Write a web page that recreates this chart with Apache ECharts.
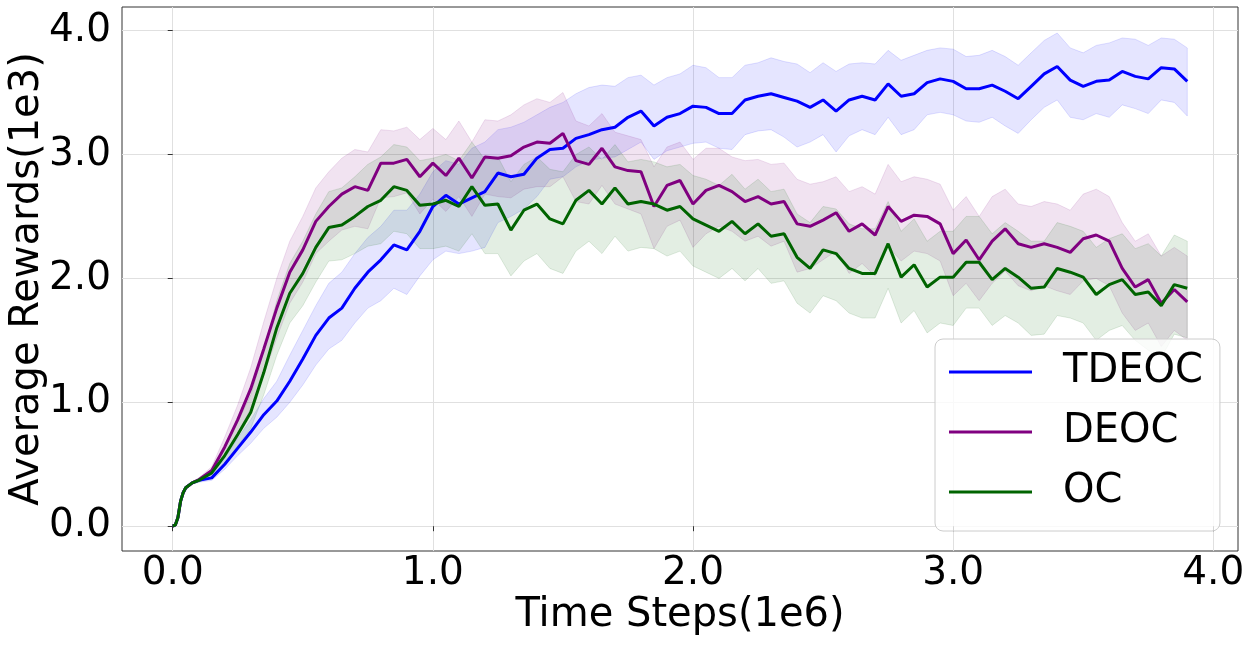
<!DOCTYPE html>
<html>
<head>
<meta charset="utf-8">
<script src="https://cdn.jsdelivr.net/npm/echarts@6/dist/echarts.min.js"></script>
<style>
  html, body { margin: 0; padding: 0; background: #fff; }
  #rewardChart { width: 1250px; height: 649px; }
</style>
</head>
<body>
<div id="rewardChart"></div>
<script>
  // time steps (1e6)
  const steps = [0, 0.01, 0.02, 0.03, 0.04, 0.05, 0.075, 0.1,
    0.15, 0.2, 0.25, 0.3, 0.35, 0.4, 0.45, 0.5, 0.55, 0.6,
    0.65, 0.7, 0.75, 0.8, 0.85, 0.9, 0.95, 1.0, 1.05, 1.1,
    1.15, 1.2, 1.25, 1.3, 1.35, 1.4, 1.45, 1.5, 1.55, 1.6,
    1.65, 1.7, 1.75, 1.8, 1.85, 1.9, 1.95, 2.0, 2.05, 2.1,
    2.15, 2.2, 2.25, 2.3, 2.35, 2.4, 2.45, 2.5, 2.55, 2.6,
    2.65, 2.7, 2.75, 2.8, 2.85, 2.9, 2.95, 3.0, 3.05, 3.1,
    3.15, 3.2, 3.25, 3.3, 3.35, 3.4, 3.45, 3.5, 3.55, 3.6,
    3.65, 3.7, 3.75, 3.8, 3.85, 3.9];

  // TDEOC
  const tdeocMean = [0, 0.01, 0.07, 0.20, 0.27, 0.31, 0.35, 0.37,
    0.39, 0.50, 0.63, 0.76, 0.90, 1.01, 1.17, 1.35, 1.54, 1.68,
    1.76, 1.92, 2.05, 2.15, 2.27, 2.23, 2.38, 2.58, 2.67, 2.60,
    2.65, 2.70, 2.85, 2.82, 2.84, 2.97, 3.04, 3.05, 3.13, 3.16,
    3.20, 3.22, 3.30, 3.35, 3.23, 3.30, 3.33, 3.39, 3.38, 3.33,
    3.33, 3.44, 3.47, 3.49, 3.46, 3.43, 3.38, 3.44, 3.35, 3.44,
    3.47, 3.44, 3.57, 3.47, 3.49, 3.58, 3.61, 3.59, 3.53, 3.53,
    3.56, 3.51, 3.45, 3.55, 3.65, 3.71, 3.60, 3.55, 3.59, 3.60,
    3.67, 3.63, 3.61, 3.70, 3.69, 3.59];
  const tdeocHigh = [0, 0.01, 0.08, 0.21, 0.28, 0.32, 0.36, 0.385,
    0.42, 0.55, 0.71, 0.86, 1.03, 1.17, 1.38, 1.58, 1.78, 1.96,
    2.05, 2.20, 2.33, 2.42, 2.55, 2.55, 2.68, 2.86, 2.95, 2.92,
    3.05, 3.10, 3.20, 3.22, 3.26, 3.32, 3.38, 3.42, 3.49, 3.54,
    3.56, 3.55, 3.62, 3.64, 3.56, 3.62, 3.65, 3.72, 3.70, 3.62,
    3.62, 3.72, 3.74, 3.78, 3.75, 3.73, 3.66, 3.74, 3.67, 3.73,
    3.74, 3.73, 3.84, 3.76, 3.80, 3.84, 3.86, 3.85, 3.79, 3.80,
    3.84, 3.79, 3.72, 3.82, 3.92, 3.98, 3.86, 3.82, 3.88, 3.90,
    3.94, 3.93, 3.88, 3.94, 3.93, 3.86];
  const tdeocLow = [0, 0.01, 0.06, 0.19, 0.26, 0.30, 0.34, 0.355,
    0.37, 0.46, 0.57, 0.67, 0.79, 0.88, 1.00, 1.14, 1.30, 1.43,
    1.50, 1.64, 1.76, 1.82, 1.92, 1.87, 2.02, 2.15, 2.22, 2.20,
    2.22, 2.25, 2.45, 2.50, 2.56, 2.66, 2.80, 2.82, 2.90, 2.95,
    2.97, 2.98, 3.04, 3.10, 2.96, 3.03, 3.06, 3.09, 3.10, 3.05,
    3.04, 3.16, 3.19, 3.20, 3.14, 3.06, 3.10, 3.16, 3.02, 3.15,
    3.20, 3.16, 3.30, 3.16, 3.20, 3.32, 3.34, 3.32, 3.27, 3.26,
    3.30, 3.23, 3.17, 3.28, 3.38, 3.44, 3.30, 3.28, 3.33, 3.30,
    3.40, 3.37, 3.33, 3.44, 3.42, 3.31];

  // DEOC
  const deocMean = [0, 0.01, 0.07, 0.20, 0.27, 0.31, 0.35, 0.375,
    0.45, 0.64, 0.86, 1.11, 1.43, 1.76, 2.05, 2.23, 2.46, 2.58,
    2.68, 2.74, 2.71, 2.93, 2.93, 2.96, 2.82, 2.93, 2.83, 2.97,
    2.81, 2.98, 2.97, 2.99, 3.06, 3.10, 3.09, 3.17, 2.95, 2.92,
    3.05, 2.90, 2.87, 2.86, 2.58, 2.75, 2.79, 2.60, 2.71, 2.75,
    2.70, 2.62, 2.66, 2.60, 2.62, 2.44, 2.42, 2.47, 2.53, 2.38,
    2.44, 2.35, 2.58, 2.46, 2.51, 2.50, 2.44, 2.20, 2.31, 2.15,
    2.30, 2.40, 2.28, 2.25, 2.28, 2.25, 2.21, 2.32, 2.35, 2.30,
    2.08, 1.93, 1.99, 1.80, 1.91, 1.81];
  const deocHigh = [0, 0.01, 0.08, 0.21, 0.28, 0.32, 0.36, 0.39,
    0.48, 0.72, 0.98, 1.28, 1.65, 2.00, 2.30, 2.50, 2.73, 2.86,
    2.97, 3.04, 3.02, 3.20, 3.19, 3.22, 3.12, 3.21, 3.12, 3.27,
    3.10, 3.28, 3.27, 3.32, 3.40, 3.45, 3.42, 3.50, 3.27, 3.23,
    3.33, 3.18, 3.15, 3.12, 2.90, 3.06, 3.10, 2.96, 3.05, 3.05,
    2.98, 2.95, 2.96, 2.92, 2.93, 2.80, 2.76, 2.78, 2.82, 2.70,
    2.74, 2.68, 2.92, 2.78, 2.82, 2.80, 2.76, 2.55, 2.66, 2.50,
    2.66, 2.72, 2.60, 2.58, 2.62, 2.60, 2.55, 2.68, 2.72, 2.66,
    2.45, 2.30, 2.36, 2.18, 2.25, 2.18];
  const deocLow = [0, 0.01, 0.06, 0.19, 0.26, 0.30, 0.34, 0.36,
    0.42, 0.57, 0.75, 0.95, 1.22, 1.52, 1.80, 1.97, 2.20, 2.30,
    2.39, 2.42, 2.40, 2.65, 2.66, 2.69, 2.52, 2.64, 2.54, 2.66,
    2.50, 2.68, 2.66, 2.65, 2.72, 2.74, 2.74, 2.82, 2.62, 2.60,
    2.75, 2.60, 2.56, 2.52, 2.24, 2.42, 2.47, 2.25, 2.36, 2.42,
    2.38, 2.30, 2.34, 2.26, 2.30, 2.05, 2.08, 2.15, 2.22, 2.04,
    2.12, 2.02, 2.26, 2.14, 2.22, 2.20, 2.14, 1.86, 1.96, 1.82,
    1.96, 2.06, 1.94, 1.90, 1.94, 1.90, 1.87, 1.98, 2.00, 1.94,
    1.72, 1.58, 1.64, 1.45, 1.58, 1.50];

  // OC
  const ocMean = [0, 0.01, 0.07, 0.20, 0.27, 0.31, 0.35, 0.37,
    0.43, 0.57, 0.74, 0.92, 1.24, 1.60, 1.88, 2.04, 2.25, 2.41,
    2.43, 2.50, 2.58, 2.63, 2.74, 2.71, 2.59, 2.60, 2.63, 2.58,
    2.74, 2.59, 2.60, 2.39, 2.55, 2.60, 2.48, 2.44, 2.63, 2.71,
    2.60, 2.73, 2.60, 2.62, 2.60, 2.55, 2.58, 2.48, 2.43, 2.38,
    2.46, 2.36, 2.44, 2.34, 2.36, 2.17, 2.08, 2.23, 2.20, 2.08,
    2.04, 2.04, 2.28, 2.01, 2.11, 1.93, 2.01, 2.01, 2.13, 2.13,
    1.99, 2.08, 2.01, 1.92, 1.93, 2.08, 2.05, 2.01, 1.87, 1.95,
    1.99, 1.87, 1.89, 1.78, 1.95, 1.92];
  const ocHigh = [0, 0.01, 0.08, 0.21, 0.28, 0.32, 0.36, 0.385,
    0.46, 0.63, 0.84, 1.06, 1.42, 1.82, 2.12, 2.30, 2.52, 2.70,
    2.73, 2.82, 2.92, 2.98, 3.08, 3.06, 2.95, 2.97, 3.00, 2.95,
    3.10, 2.96, 2.98, 2.78, 2.92, 2.98, 2.88, 2.86, 3.00, 3.06,
    2.96, 3.08, 2.94, 2.96, 2.94, 2.90, 2.92, 2.83, 2.80, 2.75,
    2.84, 2.72, 2.80, 2.70, 2.72, 2.52, 2.45, 2.58, 2.56, 2.44,
    2.40, 2.40, 2.62, 2.38, 2.48, 2.30, 2.38, 2.38, 2.50, 2.50,
    2.36, 2.45, 2.38, 2.30, 2.30, 2.45, 2.42, 2.38, 2.25, 2.32,
    2.36, 2.24, 2.28, 2.18, 2.35, 2.30];
  const ocLow = [0, 0.01, 0.06, 0.19, 0.26, 0.30, 0.34, 0.355,
    0.40, 0.51, 0.65, 0.79, 1.06, 1.38, 1.64, 1.78, 1.97, 2.14,
    2.15, 2.20, 2.26, 2.28, 2.38, 2.36, 2.24, 2.24, 2.26, 2.22,
    2.36, 2.20, 2.20, 2.02, 2.14, 2.20, 2.08, 2.04, 2.22, 2.30,
    2.20, 2.34, 2.22, 2.25, 2.24, 2.18, 2.22, 2.10, 2.05, 2.00,
    2.08, 1.98, 2.08, 1.96, 1.98, 1.80, 1.72, 1.86, 1.82, 1.72,
    1.68, 1.68, 1.92, 1.64, 1.74, 1.56, 1.64, 1.62, 1.76, 1.76,
    1.62, 1.70, 1.64, 1.54, 1.55, 1.70, 1.68, 1.64, 1.50, 1.58,
    1.62, 1.50, 1.42, 1.36, 1.55, 1.52];

  const xTicks = [0, 1, 2, 3, 4];
  const yTicks = [0, 1, 2, 3, 4];

  const font = 'DejaVu Sans';

  function pairs(ys) {
    return steps.map(function (x, i) { return [x, ys[i]]; });
  }

  // shaded band between low and high, drawn as one polygon through the axis scales
  function band(name, low, high, fill, stroke) {
    return {
      name: name + ' band', type: 'custom', silent: true, z: 1,
      data: steps.map(function (x, i) { return [x, low[i], high[i]]; }),
      encode: { x: 0, y: [1, 2] },
      renderItem: function (params, api) {
        if (params.dataIndex !== 0) return null;
        let top = [], bottom = [];
        for (let i = 0; i < steps.length; i++) {
          top.push(api.coord([steps[i], high[i]]));
          bottom.push(api.coord([steps[i], low[i]]));
        }
        return {
          type: 'polygon',
          shape: { points: top.concat(bottom.reverse()) },
          style: { fill: fill, stroke: stroke, lineWidth: 1 }
        };
      }
    };
  }

  function meanLine(name, values, color) {
    return {
      name: name, type: 'line', data: pairs(values), symbol: 'none',
      lineStyle: { width: 3, color: color }, itemStyle: { color: color }, z: 3
    };
  }

  let myChart = echarts.init(document.getElementById('rewardChart'));
  let option = {
    animation: false,
    grid: {
      left: 122, right: 12, top: 7, bottom: 98,
      show: true, borderColor: '#333', borderWidth: 1,
      outerBoundsMode: 'none'
    },
    legend: {
      data: ['TDEOC', 'DEOC', 'OC'],
      orient: 'vertical',
      left: 935, top: 339,
      padding: [13, 17, 19, 14],
      itemGap: 20,
      itemWidth: 83, itemHeight: 3,
      icon: 'rect',
      backgroundColor: 'rgba(255,255,255,0.8)',
      borderColor: '#cccccc', borderWidth: 1, borderRadius: 8,
      textStyle: {
        fontFamily: font, fontSize: 40, color: '#000',
        lineHeight: 40, padding: [0, 0, 0, 26]
      }
    },
    xAxis: {
      type: 'value', min: -0.195, max: 4.095,
      name: 'Time Steps(1e6)', nameLocation: 'middle', nameGap: 45,
      nameMoveOverlap: false,
      nameTextStyle: { fontFamily: font, fontSize: 40, color: '#000' },
      axisLine: { show: false },
      axisTick: { show: true, length: 5, customValues: xTicks, lineStyle: { color: '#333' } },
      axisLabel: {
        customValues: xTicks, fontFamily: font, fontSize: 39, color: '#000', margin: 3,
        formatter: function (v) { return v.toFixed(1); }
      },
      splitLine: { show: true, lineStyle: { color: '#e0e0e0', width: 1 } }
    },
    yAxis: {
      type: 'value', min: -0.2, max: 4.19,
      name: 'Average Rewards(1e3)', nameLocation: 'middle', nameGap: 74,
      nameMoveOverlap: false,
      nameTextStyle: { fontFamily: font, fontSize: 40, color: '#000' },
      axisLine: { show: false },
      axisTick: { show: true, length: 5, customValues: yTicks, lineStyle: { color: '#333' } },
      axisLabel: {
        customValues: yTicks, fontFamily: font, fontSize: 39, color: '#000', margin: 11,
        formatter: function (v) { return v.toFixed(1); }
      },
      splitLine: { show: true, lineStyle: { color: '#e0e0e0', width: 1 } }
    },
    series: [
      band('TDEOC', tdeocLow, tdeocHigh, 'rgba(0,0,255,0.1)', 'rgba(0,0,255,0.12)'),
      band('DEOC', deocLow, deocHigh, 'rgba(128,0,128,0.11)', 'rgba(128,0,128,0.12)'),
      band('OC', ocLow, ocHigh, 'rgba(0,100,0,0.11)', 'rgba(0,100,0,0.12)'),
      meanLine('TDEOC', tdeocMean, '#0000ff'),
      meanLine('DEOC', deocMean, '#800080'),
      meanLine('OC', ocMean, '#006400')
    ]
  };
  myChart.setOption(option, true);
</script>
</body>
</html>
